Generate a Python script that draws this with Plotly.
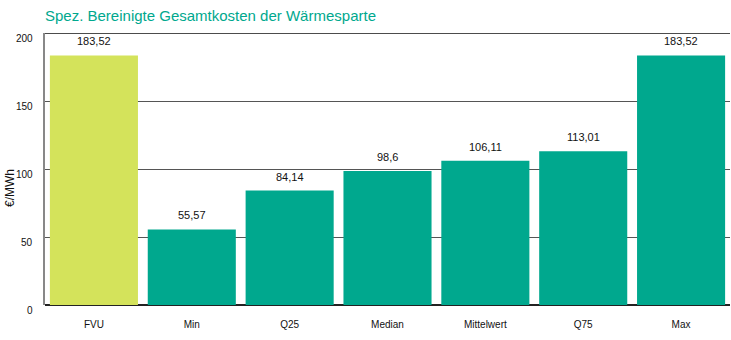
import plotly.graph_objects as go

categories = ["FVU", "Min", "Q25", "Median", "Mittelwert", "Q75", "Max"]
values = [183.52, 55.57, 84.14, 98.6, 106.11, 113.01, 183.52]
labels = ["183,52", "55,57", "84,14", "98,6", "106,11", "113,01", "183,52"]
colors = ["#d4e35b"] + ["#00a88e"] * 6
y_ticks = [0, 50, 100, 150, 200]

fig = go.Figure(go.Bar(
    x=categories, y=values,
    marker=dict(color=colors, line=dict(width=0)),
))

for c, v, t in zip(categories, values, labels):
    fig.add_annotation(x=c, y=v, text=t, showarrow=False, yanchor="middle",
                       yshift=14, font=dict(size=11, color="#111111"))

for t in y_ticks:
    fig.add_annotation(x=0, xref="paper", y=t, yref="y", text=str(t), showarrow=False,
                       xanchor="right", yanchor="middle", xshift=-10, yshift=-5,
                       font=dict(size=10, color="#111111"))

fig.add_annotation(x=0, xref="paper", xshift=-35, y=0.43, yref="paper", text="€/MWh",
                   textangle=-90, showarrow=False, xanchor="center", yanchor="middle",
                   font=dict(size=12, color="#111111"))

fig.update_layout(
    width=731, height=340,
    margin=dict(l=45, r=1, t=33, b=35),
    paper_bgcolor="white", plot_bgcolor="white",
    font=dict(family="Liberation Sans, Arial, sans-serif", size=11, color="#111111"),
    title=dict(text="Spez. Bereinigte Gesamtkosten der Wärmesparte",
               x=0, xref="paper", xanchor="left", y=1 - 16/340, yanchor="middle",
               font=dict(size=15, color="#00a88e")),
    bargap=0.1,
    showlegend=False,
)
fig.update_xaxes(showgrid=False, showline=False, ticks="", ticklabelstandoff=12,
                 tickfont=dict(size=10))
fig.update_yaxes(range=[0, 200], tickvals=y_ticks, showticklabels=False,
                 showgrid=True, gridcolor="#555555", gridwidth=1,
                 zeroline=True, zerolinecolor="#222222", zerolinewidth=1.5,
                 showline=True, linecolor="#888888", linewidth=2, ticks="")
fig.add_shape(type="line", xref="paper", yref="y", x0=0, x1=1, y0=200, y1=200,
              line=dict(color="#111111", width=1.5))

fig.write_html("out.html")
